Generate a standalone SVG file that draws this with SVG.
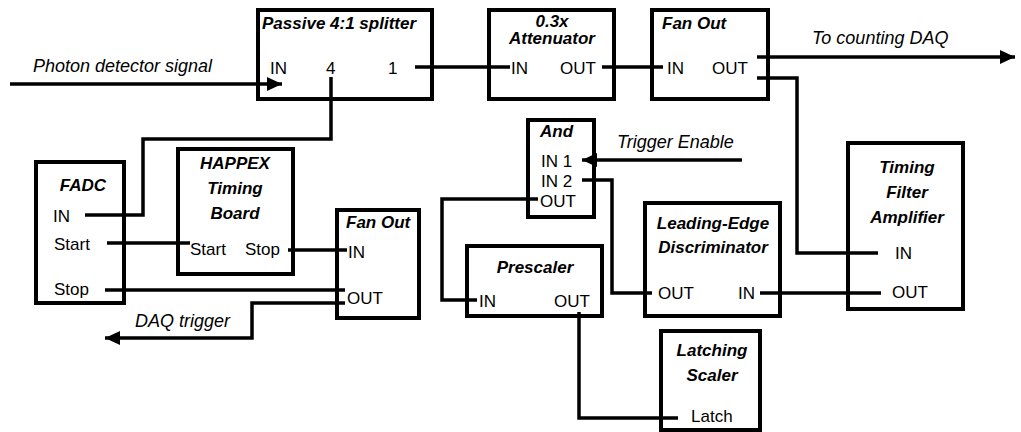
<svg xmlns="http://www.w3.org/2000/svg" width="1021" height="432" viewBox="0 0 1021 432">
<style>
.box{fill:#fff;stroke:#000;stroke-width:4}
.t{font-family:"Liberation Sans",Arial,sans-serif;font-size:17px;font-weight:bold;font-style:italic;fill:#000}
.l{font-family:"Liberation Sans",Arial,sans-serif;font-size:17px;fill:#000}
.s{font-family:"Liberation Sans",Arial,sans-serif;font-size:18px;font-style:italic;fill:#000}
.c{fill:none;stroke:#000;stroke-width:3.5;stroke-linejoin:miter}
</style>
<defs>
<marker id="arr" markerUnits="userSpaceOnUse" markerWidth="16" markerHeight="14" refX="15" refY="7" orient="auto">
<path d="M0,0 L15,7 L0,14 Z" fill="#000"/>
</marker>
</defs>
<rect width="1021" height="432" fill="#fff"/>

<g id="splitter">
<rect class="box" x="258" y="10" width="174" height="89"/>
<text class="t" x="262" y="29">Passive 4:1 splitter</text>
<text class="l" x="270" y="74">IN</text>
<text class="l" x="326" y="74">4</text>
<text class="l" x="388" y="74">1</text>
</g>

<g id="attenuator">
<rect class="box" x="489" y="10" width="125" height="89"/>
<text class="t" x="552" y="27" text-anchor="middle">0.3x</text>
<text class="t" x="552" y="44" text-anchor="middle">Attenuator</text>
<text class="l" x="511" y="74">IN</text>
<text class="l" x="560" y="74">OUT</text>
</g>

<g id="fanout1">
<rect class="box" x="652" y="10" width="116" height="89"/>
<text class="t" x="662" y="29">Fan Out</text>
<text class="l" x="667" y="74">IN</text>
<text class="l" x="712" y="74">OUT</text>
</g>

<g id="and">
<rect class="box" x="528" y="120" width="66" height="97"/>
<text class="t" x="540" y="137">And</text>
<text class="l" x="541" y="167">IN 1</text>
<text class="l" x="541" y="187">IN 2</text>
<text class="l" x="540" y="207">OUT</text>
</g>

<g id="tfa">
<rect class="box" x="848" y="143" width="115" height="166"/>
<text class="t" x="907" y="173" text-anchor="middle">Timing</text>
<text class="t" x="907" y="198" text-anchor="middle">Filter</text>
<text class="t" x="907" y="223" text-anchor="middle">Amplifier</text>
<text class="l" x="895" y="259">IN</text>
<text class="l" x="892" y="298">OUT</text>
</g>

<g id="led">
<rect class="box" x="645" y="203" width="135" height="113"/>
<text class="t" x="713" y="229" text-anchor="middle">Leading-Edge</text>
<text class="t" x="713" y="253" text-anchor="middle">Discriminator</text>
<text class="l" x="658" y="299">OUT</text>
<text class="l" x="738" y="299">IN</text>
</g>

<g id="prescaler">
<rect class="box" x="467" y="246" width="135" height="70"/>
<text class="t" x="535" y="273" text-anchor="middle">Prescaler</text>
<text class="l" x="479" y="307">IN</text>
<text class="l" x="554" y="307">OUT</text>
</g>

<g id="latching">
<rect class="box" x="661" y="331" width="99" height="99"/>
<text class="t" x="712" y="356" text-anchor="middle">Latching</text>
<text class="t" x="712" y="381" text-anchor="middle">Scaler</text>
<text class="l" x="691" y="422">Latch</text>
</g>

<g id="fadc">
<rect class="box" x="36" y="162" width="88" height="141"/>
<text class="t" x="83" y="191" text-anchor="middle">FADC</text>
<text class="l" x="53" y="222">IN</text>
<text class="l" x="54" y="250">Start</text>
<text class="l" x="54" y="295">Stop</text>
</g>

<g id="happex">
<rect class="box" x="178" y="149" width="115" height="125"/>
<text class="t" x="235" y="169" text-anchor="middle">HAPPEX</text>
<text class="t" x="235" y="194" text-anchor="middle">Timing</text>
<text class="t" x="235" y="219" text-anchor="middle">Board</text>
<text class="l" x="190" y="255">Start</text>
<text class="l" x="245" y="255">Stop</text>
</g>

<g id="fanout2">
<rect class="box" x="337" y="210" width="82" height="108"/>
<text class="t" x="346" y="228">Fan Out</text>
<text class="l" x="348" y="258">IN</text>
<text class="l" x="347" y="304">OUT</text>
</g>

<g id="connectors">
<path class="c" d="M10,84 H282" marker-end="url(#arr)"/>
<path class="c" d="M415,67 H510"/>
<path class="c" d="M602,67 H663"/>
<path class="c" d="M757,57 H1015" marker-end="url(#arr)"/>
<path class="c" d="M757,78 H797 V253 H878"/>
<path class="c" d="M760,293 H881"/>
<path class="c" d="M652,293 H612 V180 H582"/>
<path class="c" d="M742,160 H582" marker-end="url(#arr)"/>
<path class="c" d="M538,199 H442 V300 H477"/>
<path class="c" d="M579,312 V418 H678"/>
<path class="c" d="M331,77 V139 H143 V215 H85"/>
<path class="c" d="M107,243 H190"/>
<path class="c" d="M288,250 H347"/>
<path class="c" d="M105,290 H345"/>
<path class="c" d="M345,303 H252 V338 H105" marker-end="url(#arr)"/>
<text class="s" x="33" y="72">Photon detector signal</text>
<text class="s" x="812" y="44">To counting DAQ</text>
<text class="s" x="617" y="148">Trigger Enable</text>
<text class="s" x="135" y="327">DAQ trigger</text>
</g>
</svg>
